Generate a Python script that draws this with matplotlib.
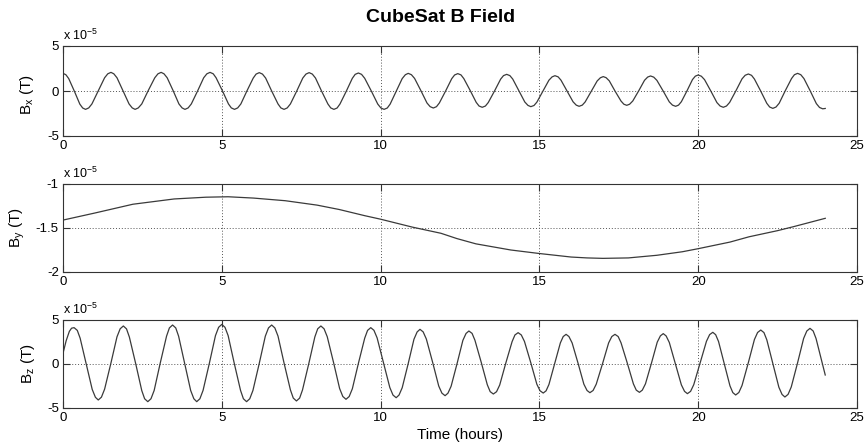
import matplotlib
matplotlib.use("Agg")
import matplotlib.pyplot as plt

# magnetic field components, units of 1e-5 T, time in hours
bx_t = [0.00,
        0.09, 0.18, 0.36, 0.53, 0.62, 0.71,
        0.81, 0.91, 1.11, 1.31, 1.41, 1.51,
        1.60, 1.70, 1.89, 2.08, 2.18, 2.27,
        2.37, 2.48, 2.68, 2.89, 2.99, 3.09,
        3.18, 3.28, 3.47, 3.65, 3.75, 3.84,
        3.94, 4.04, 4.24, 4.43, 4.53, 4.63,
        4.73, 4.82, 5.02, 5.21, 5.30, 5.40,
        5.50, 5.60, 5.79, 5.99, 6.08, 6.18,
        6.28, 6.38, 6.57, 6.77, 6.86, 6.96,
        7.06, 7.16, 7.36, 7.55, 7.65, 7.75,
        7.85, 7.95, 8.14, 8.34, 8.43, 8.53,
        8.63, 8.72, 8.92, 9.11, 9.20, 9.30,
        9.40, 9.50, 9.71, 9.91, 10.01, 10.11,
        10.21, 10.30, 10.49, 10.68, 10.78, 10.87,
        10.97, 11.07, 11.27, 11.46, 11.56, 11.66,
        11.76, 11.85, 12.05, 12.24, 12.33, 12.43,
        12.53, 12.62, 12.82, 13.01, 13.10, 13.20,
        13.30, 13.39, 13.59, 13.78, 13.87, 13.97,
        14.07, 14.16, 14.35, 14.54, 14.64, 14.73,
        14.83, 14.92, 15.11, 15.30, 15.40, 15.49,
        15.59, 15.68, 15.87, 16.06, 16.16, 16.25,
        16.35, 16.44, 16.63, 16.82, 16.92, 17.01,
        17.10, 17.20, 17.38, 17.57, 17.66, 17.75,
        17.84, 17.94, 18.13, 18.31, 18.41, 18.50,
        18.60, 18.70, 18.90, 19.09, 19.19, 19.29,
        19.38, 19.47, 19.65, 19.82, 19.91, 20.00,
        20.10, 20.20, 20.40, 20.59, 20.69, 20.79,
        20.89, 20.99, 21.19, 21.38, 21.48, 21.58,
        21.68, 21.77, 21.97, 22.16, 22.25, 22.35,
        22.45, 22.55, 22.74, 22.94, 23.03, 23.13,
        23.23, 23.33, 23.53, 23.72, 23.82, 23.92,
        24.00]
bx_v = [1.96,
        1.81, 1.38, -0.04, -1.46, -1.89, -2.04,
        -1.88, -1.44, 0.02, 1.47, 1.91, 2.07,
        1.91, 1.47, 0.02, -1.44, -1.88, -2.04,
        -1.88, -1.44, 0.02, 1.47, 1.91, 2.07,
        1.91, 1.47, 0.02, -1.44, -1.88, -2.04,
        -1.88, -1.44, 0.02, 1.47, 1.91, 2.07,
        1.91, 1.47, 0.02, -1.44, -1.88, -2.04,
        -1.88, -1.44, 0.00, 1.44, 1.88, 2.04,
        1.88, 1.44, 0.00, -1.44, -1.88, -2.04,
        -1.88, -1.44, 0.00, 1.44, 1.88, 2.04,
        1.88, 1.44, 0.00, -1.44, -1.88, -2.04,
        -1.89, -1.45, -0.02, 1.41, 1.85, 2.00,
        1.85, 1.41, -0.02, -1.45, -1.89, -2.04,
        -1.89, -1.46, -0.04, 1.38, 1.81, 1.96,
        1.81, 1.40, 0.03, -1.33, -1.74, -1.89,
        -1.74, -1.33, 0.02, 1.37, 1.78, 1.93,
        1.79, 1.38, 0.06, -1.26, -1.67, -1.81,
        -1.67, -1.28, 0.02, 1.32, 1.71, 1.85,
        1.71, 1.33, 0.05, -1.22, -1.60, -1.74,
        -1.61, -1.24, -0.02, 1.20, 1.57, 1.70,
        1.57, 1.20, 0.00, -1.20, -1.57, -1.70,
        -1.57, -1.22, -0.05, 1.12, 1.47, 1.60,
        1.48, 1.13, 0.00, -1.12, -1.47, -1.59,
        -1.47, -1.11, 0.04, 1.19, 1.55, 1.67,
        1.54, 1.18, -0.02, -1.21, -1.57, -1.70,
        -1.57, -1.19, 0.04, 1.27, 1.65, 1.78,
        1.64, 1.26, -0.02, -1.29, -1.67, -1.81,
        -1.67, -1.27, 0.04, 1.35, 1.75, 1.89,
        1.74, 1.33, -0.02, -1.37, -1.78, -1.93,
        -1.78, -1.36, 0.02, 1.39, 1.81, 1.96,
        1.81, 1.38, -0.01, -1.40, -1.83, -1.98,
        -1.94]

by_t = [0.0, 1.0, 2.2, 3.5, 4.5, 5.2, 6.0, 7.0, 8.0, 8.7,
        9.5, 10.0, 11.0, 11.9, 12.4, 13.0, 14.1, 15.0, 16.0, 16.5,
        17.0, 17.8, 18.7, 19.5, 20.0, 21.0, 21.6, 22.5, 23.0, 24.0]
by_v = [-1.41, -1.33, -1.23, -1.17, -1.15, -1.145, -1.16, -1.19, -1.24, -1.29,
        -1.36, -1.40, -1.49, -1.56, -1.62, -1.68, -1.75, -1.79, -1.83, -1.84,
        -1.845, -1.84, -1.81, -1.77, -1.735, -1.66, -1.60, -1.53, -1.485, -1.39]

bz_t = [0.00, 0.10, 0.20, 0.27, 0.35,
        0.45, 0.54, 0.73, 0.92, 1.02, 1.11,
        1.21, 1.31, 1.51, 1.70, 1.80, 1.90,
        2.00, 2.09, 2.29, 2.48, 2.57, 2.67,
        2.77, 2.87, 3.06, 3.26, 3.35, 3.45,
        3.55, 3.64, 3.83, 4.02, 4.12, 4.21,
        4.31, 4.41, 4.61, 4.80, 4.90, 5.00,
        5.10, 5.20, 5.39, 5.59, 5.68, 5.78,
        5.88, 5.98, 6.18, 6.37, 6.47, 6.57,
        6.67, 6.77, 6.96, 7.16, 7.25, 7.35,
        7.45, 7.54, 7.74, 7.93, 8.02, 8.12,
        8.22, 8.32, 8.52, 8.71, 8.81, 8.91,
        9.01, 9.11, 9.30, 9.50, 9.59, 9.69,
        9.79, 9.89, 10.09, 10.29, 10.39, 10.49,
        10.58, 10.68, 10.87, 11.05, 11.15, 11.24,
        11.34, 11.44, 11.64, 11.83, 11.93, 12.03,
        12.12, 12.22, 12.41, 12.59, 12.69, 12.78,
        12.88, 12.97, 13.17, 13.36, 13.45, 13.55,
        13.65, 13.75, 13.94, 14.14, 14.23, 14.33,
        14.43, 14.53, 14.73, 14.92, 15.02, 15.12,
        15.21, 15.30, 15.48, 15.66, 15.75, 15.84,
        15.93, 16.03, 16.22, 16.40, 16.50, 16.59,
        16.69, 16.79, 16.99, 17.18, 17.28, 17.38,
        17.48, 17.57, 17.77, 17.96, 18.05, 18.15,
        18.24, 18.34, 18.53, 18.71, 18.81, 18.90,
        18.99, 19.09, 19.28, 19.47, 19.57, 19.66,
        19.76, 19.86, 20.06, 20.26, 20.36, 20.46,
        20.55, 20.64, 20.82, 21.00, 21.09, 21.18,
        21.28, 21.38, 21.58, 21.77, 21.87, 21.97,
        22.07, 22.16, 22.35, 22.54, 22.64, 22.73,
        22.83, 22.93, 23.13, 23.32, 23.42, 23.52,
        23.62, 23.71, 23.85, 24.00]
bz_v = [1.21, 2.65, 3.71, 4.07, 4.13,
        3.82, 2.93, 0.02, -2.89, -3.78, -4.09,
        -3.77, -2.86, 0.12, 3.09, 4.00, 4.32,
        3.99, 3.06, 0.02, -3.02, -3.95, -4.28,
        -3.95, -3.01, 0.08, 3.16, 4.10, 4.43,
        4.10, 3.16, 0.08, -3.01, -3.95, -4.28,
        -3.95, -3.00, 0.11, 3.22, 4.17, 4.50,
        4.17, 3.22, 0.11, -3.00, -3.95, -4.28,
        -3.95, -3.01, 0.08, 3.16, 4.10, 4.43,
        4.10, 3.17, 0.11, -2.94, -3.87, -4.20,
        -3.88, -2.96, 0.06, 3.08, 4.00, 4.32,
        4.00, 3.10, 0.15, -2.79, -3.69, -4.01,
        -3.70, -2.82, 0.06, 2.94, 3.82, 4.13,
        3.83, 2.97, 0.15, -2.67, -3.53, -3.83,
        -3.53, -2.70, 0.06, 2.81, 3.64, 3.94,
        3.65, 2.84, 0.17, -2.50, -3.31, -3.60,
        -3.32, -2.53, 0.08, 2.68, 3.47, 3.75,
        3.48, 2.70, 0.17, -2.36, -3.14, -3.41,
        -3.15, -2.39, 0.08, 2.54, 3.30, 3.56,
        3.30, 2.56, 0.13, -2.30, -3.04, -3.30,
        -3.05, -2.33, 0.04, 2.40, 3.12, 3.37,
        3.12, 2.40, 0.05, -2.29, -3.01, -3.26,
        -3.01, -2.29, 0.06, 2.40, 3.12, 3.37,
        3.12, 2.41, 0.07, -2.26, -2.97, -3.22,
        -2.97, -2.25, 0.12, 2.48, 3.20, 3.45,
        3.19, 2.45, 0.04, -2.37, -3.11, -3.37,
        -3.11, -2.35, 0.12, 2.58, 3.34, 3.60,
        3.33, 2.56, 0.04, -2.48, -3.25, -3.52,
        -3.24, -2.44, 0.17, 2.78, 3.58, 3.86,
        3.57, 2.75, 0.05, -2.64, -3.46, -3.75,
        -3.45, -2.61, 0.15, 2.91, 3.75, 4.05,
        3.75, 2.90, 0.90, -1.25]

x_ticks = [0, 5, 10, 15, 20, 25]
bx_ticks = [-5, 0, 5]
by_ticks = [-2, -1.5, -1]
by_tick_labels = ['-2', '-1.5', '-1']
bz_ticks = [-5, 0, 5]

plt.rcParams['font.family'] = 'Liberation Sans'
plt.rcParams['axes.unicode_minus'] = False
plt.rcParams['mathtext.fontset'] = 'custom'
plt.rcParams['mathtext.rm'] = 'Liberation Sans'
plt.rcParams['mathtext.it'] = 'Liberation Sans:italic'

W, H = 868, 446
fig = plt.figure(figsize=(W / 100, H / 100), dpi=100)
frame = '#333333'


def make_axes(top, bottom):
    ax = fig.add_axes([63 / W, 1 - bottom / H, 794 / W, (bottom - top) / H])
    for s in ax.spines.values():
        s.set_color(frame)
        s.set_linewidth(0.8)
    ax.tick_params(direction='in', top=True, right=True, length=5, width=0.8,
                   color=frame, labelsize=9.5, pad=3)
    ax.set_xlim(0, 25)
    ax.set_xticks(x_ticks)
    ax.grid(True, linestyle=(0, (1, 2)), color='#555555', linewidth=0.7)
    # scale factor above the upper-left corner
    ax.annotate(r'x 10$^{\mathrm{-5}}$', xy=(0, 1), xycoords='axes fraction',
                xytext=(0, 2), textcoords='offset points',
                ha='left', va='bottom', fontsize=9)
    return ax


line_kw = dict(color='#3a3a3a', linewidth=0.9)

ax1 = make_axes(46, 136)
ax1.plot(bx_t, bx_v, **line_kw)
ax1.set_ylim(-5, 5)
ax1.set_yticks(bx_ticks)

ax2 = make_axes(184, 272)
ax2.plot(by_t, by_v, **line_kw)
ax2.set_ylim(-2, -1)
ax2.set_yticks(by_ticks)
ax2.set_yticklabels(by_tick_labels)

ax3 = make_axes(320, 408)
ax3.plot(bz_t, bz_v, **line_kw)
ax3.set_ylim(-5, 5)
ax3.set_yticks(bz_ticks)

# axis labels and title
fig.text(27 / W, 1 - 95 / H, r'B$_{\mathrm{x}}$ (T)', rotation=90,
         ha='center', va='center', fontsize=11)
fig.text(17 / W, 1 - 228 / H, r'B$_{\mathrm{y}}$ (T)', rotation=90,
         ha='center', va='center', fontsize=11)
fig.text(28 / W, 1 - 364 / H, r'B$_{\mathrm{z}}$ (T)', rotation=90,
         ha='center', va='center', fontsize=11)
fig.text(460 / W, 1 - 435.5 / H, 'Time (hours)', ha='center', va='center',
         fontsize=11)
fig.text(441 / W, 1 - 17.5 / H, 'CubeSat B Field', ha='center', va='center',
         fontsize=14, fontweight='bold')

fig.savefig('out.png', dpi=100)
